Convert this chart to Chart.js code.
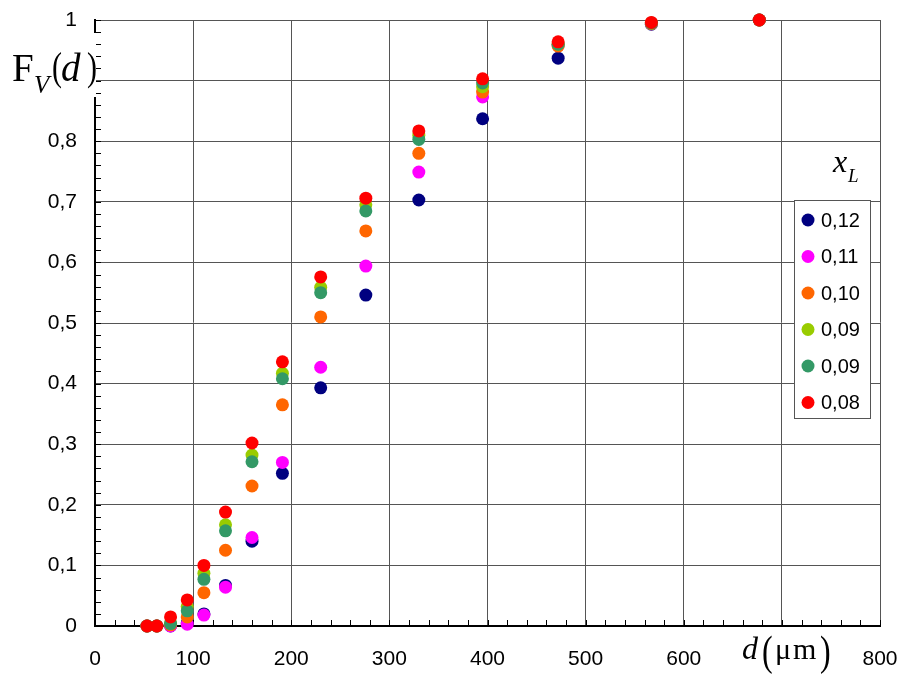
<!DOCTYPE html>
<html>
<head>
<meta charset="utf-8">
<script src="https://cdn.jsdelivr.net/npm/chart.js@4.4.0/dist/chart.umd.min.js"></script>
<style>
html,body{margin:0;padding:0;background:#fff;}
canvas{display:block;}
</style>
</head>
<body>
<canvas id="c" width="903" height="678"></canvas>
<script>
// ---- data ----
const diameters = [53, 63, 77, 94, 111, 133, 160, 191, 230, 276, 330, 395, 472, 567, 677];
const seriesNames = ['0,12', '0,11', '0,10', '0,09', '0,09', '0,08'];
const fv012 = [0, 0, 0, 0.005, 0.020, 0.067, 0.140, 0.252, 0.393, 0.546, 0.703, 0.837, 0.937, 0.993, 1];
const fv011 = [0, 0, 0, 0.003, 0.018, 0.064, 0.146, 0.270, 0.427, 0.594, 0.749, 0.873, 0.958, 0.994, 1];
const fv010 = [0, 0, 0.002, 0.015, 0.055, 0.125, 0.231, 0.365, 0.510, 0.652, 0.780, 0.881, 0.957, 0.994, 1];
const fv009a = [0, 0, 0.005, 0.032, 0.087, 0.167, 0.282, 0.417, 0.559, 0.695, 0.810, 0.890, 0.960, 0.995, 1];
const fv009b = [0, 0, 0.004, 0.025, 0.077, 0.157, 0.271, 0.408, 0.550, 0.685, 0.803, 0.896, 0.960, 0.995, 1];
const fv008 = [0, 0, 0.015, 0.043, 0.100, 0.188, 0.302, 0.436, 0.576, 0.706, 0.817, 0.903, 0.964, 0.996, 1];
const seriesValues = [fv012, fv011, fv010, fv009a, fv009b, fv008];
const xTickHidden = [700];
const yTickHidden = [0.9];

// ---- styles ----
const seriesColors = ['#000080', '#FF00FF', '#FF6600', '#99CC00', '#339966', '#FF0000'];
const gridColor = '#555555';
const tickFont = {family: '"Liberation Sans", Arial, sans-serif', size: 21};

const datasets = seriesValues.map((vals, k) => ({
  label: seriesNames[k],
  data: diameters.map((d, i) => ({x: d, y: vals[i]})),
  backgroundColor: seriesColors[k],
  borderColor: seriesColors[k],
  borderWidth: 0,
  pointRadius: 6.5,
  pointHoverRadius: 6.5,
  showLine: false,
  clip: false,
  order: seriesValues.length - 1 - k
}));

function fmtY(v) {
  if (yTickHidden.some(h => Math.abs(h - v) < 1e-6)) return '';
  if (Math.abs(v) < 1e-9) return '0';
  if (Math.abs(v - 1) < 1e-9) return '1';
  return v.toFixed(1).replace('.', ',');
}

const SERIF = '"Liberation Serif", "Times New Roman", serif';

// tall, thin parenthesis (vertically stretched glyph)
function paren(ctx, ch, x, y, size, stretch) {
  ctx.save();
  ctx.translate(x, y);
  ctx.scale(1, stretch);
  ctx.font = size + 'px ' + SERIF;
  ctx.fillText(ch, 0, 0);
  ctx.restore();
}

const decor = {
  id: 'decor',
  beforeDatasetsDraw(chart) {
    const ctx = chart.ctx, xs = chart.scales.x, ys = chart.scales.y, a = chart.chartArea;
    ctx.save();
    // white box behind the y title (hides the axis line there)
    ctx.fillStyle = '#fff';
    ctx.fillRect(0, 33, 96, 64);
    // minor ticks inside the plot
    ctx.strokeStyle = '#000';
    ctx.lineWidth = 1;
    ctx.beginPath();
    for (let k = 0; k <= 50; k++) {
      const py = Math.round(ys.getPixelForValue(k / 50)) + 0.5;
      ctx.moveTo(a.left + 1, py); ctx.lineTo(a.left + 6, py);
    }
    for (let k = 0; k <= 40; k++) {
      const px = Math.round(xs.getPixelForValue(k * 20)) + 0.5;
      ctx.moveTo(px, a.bottom - 1); ctx.lineTo(px, a.bottom - 6);
    }
    ctx.stroke();
    // y axis title F_V(d)
    ctx.fillStyle = '#000';
    ctx.textBaseline = 'alphabetic';
    ctx.textAlign = 'left';
    ctx.font = '39px ' + SERIF;
    ctx.fillText('F', 12, 81);
    ctx.font = 'italic 25px ' + SERIF;
    ctx.fillText('V', 34, 93);
    paren(ctx, '(', 52, 80, 30, 1.35);
    ctx.font = 'italic 39px ' + SERIF;
    ctx.fillText('d', 61, 81);
    paren(ctx, ')', 87, 80, 30, 1.35);
    // x axis title d(μm)
    ctx.font = 'italic 32px ' + SERIF;
    ctx.fillText('d', 742, 659);
    paren(ctx, '(', 762, 665, 32, 1.35);
    ctx.font = '30px ' + SERIF;
    ctx.fillText('\u03BC', 775, 659);
    ctx.fillText('m', 793, 659);
    paren(ctx, ')', 820, 665, 32, 1.35);
    ctx.restore();
  },
  afterDraw(chart) {
    const ctx = chart.ctx;
    ctx.save();
    // legend title x_L
    ctx.fillStyle = '#000';
    ctx.textAlign = 'left';
    ctx.textBaseline = 'alphabetic';
    ctx.font = 'italic 32px ' + SERIF;
    ctx.fillText('x', 833, 172);
    ctx.font = 'italic 19px ' + SERIF;
    ctx.fillText('L', 848, 182);
    // legend box
    ctx.fillStyle = '#fff';
    ctx.fillRect(794, 200, 77, 219);
    ctx.strokeStyle = '#555';
    ctx.lineWidth = 1;
    ctx.strokeRect(794.5, 200.5, 76, 218);
    chart.data.datasets.forEach((ds, i) => {
      const cy = 220 + i * 36.5;
      ctx.fillStyle = ds.backgroundColor;
      ctx.beginPath();
      ctx.arc(808, cy, 6.5, 0, Math.PI * 2);
      ctx.fill();
      ctx.fillStyle = '#000';
      ctx.font = '20px "Liberation Sans", Arial, sans-serif';
      ctx.textBaseline = 'middle';
      ctx.fillText(ds.label, 821, cy + 1);
    });
    ctx.restore();
  }
};

new Chart(document.getElementById('c'), {
  type: 'scatter',
  data: {datasets},
  options: {
    responsive: false,
    animation: false,
    devicePixelRatio: 1,
    layout: {padding: {left: 0, top: 20, right: 23, bottom: 0}},
    plugins: {legend: {display: false}, tooltip: {enabled: false}},
    scales: {
      x: {
        type: 'linear', min: 0, max: 800,
        afterFit: s => { s.height = 52; s.paddingLeft = 0; s.paddingRight = 0; },
        ticks: {stepSize: 100, color: '#000', font: tickFont, padding: 21, maxRotation: 0,
          callback: v => xTickHidden.includes(v) ? '' : String(v)},
        grid: {color: gridColor, lineWidth: 1, drawTicks: false},
        border: {display: true, color: '#000', width: 2}
      },
      y: {
        type: 'linear', min: 0, max: 1,
        afterFit: s => { s.width = 95; s.paddingTop = 0; s.paddingBottom = 0; },
        ticks: {stepSize: 0.1, color: '#000', font: tickFont, padding: 18, callback: fmtY},
        grid: {color: gridColor, lineWidth: 1, drawTicks: false},
        border: {display: true, color: '#000', width: 2}
      }
    }
  },
  plugins: [decor]
});
</script>
</body>
</html>
